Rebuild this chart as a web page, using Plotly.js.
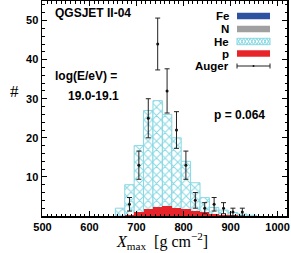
<!DOCTYPE html>
<html><head><meta charset="utf-8">
<script src="https://cdn.plot.ly/plotly-3.0.1.min.js"></script>
<style>html,body{margin:0;padding:0;background:#fff}#c{width:291px;height:253px}</style>
</head><body><div id="c"></div>
<script>
// bin centres (g/cm^2), 20 g/cm^2 bins
const binCenters = [665, 685, 705, 725, 745, 765, 785, 805, 825, 845, 865, 885, 905, 925, 945];
const heCounts   = [2, 8, 18, 27, 29.5, 26, 20, 14, 8.5, 4.7, 2.2, 1.5, 0.9, 0.5, 0.2];
const pCounts    = [0.05, 0.3, 1.0, 1.9, 2.4, 2.5, 2.1, 1.7, 1.3, 0.9, 0.55, 0.3, 0.15, 0.05, 0];
const nCounts    = [0, 0, 0, 0, 0, 0, 0, 0, 0, 0, 0, 0, 0, 0, 0];
const feCounts   = [0, 0, 0, 0, 0, 0, 0, 0, 0, 0, 0, 0, 0, 0, 0];
// Auger data
const augerX     = [685, 705, 725, 745, 765, 785, 805, 825, 845, 865, 885, 905, 925];
const augerN     = [3, 13, 25, 44, 32, 22, 13, 4, 2, 3, 2, 1, 1];
const xTicks     = [500, 600, 700, 800, 900, 1000];
const yTicks     = [10, 20, 30, 40, 50];

const cyan = '#86d8e3';
const traces = [
  {type:'bar', x:binCenters, y:feCounts, width:20, marker:{color:'#2f52a0', line:{width:0}}, showlegend:false, hoverinfo:'skip'},
  {type:'bar', x:binCenters, y:nCounts, width:20, marker:{color:'#a0a0a0', line:{width:0}}, showlegend:false, hoverinfo:'skip'},
  {type:'bar', x:binCenters, y:heCounts, width:20,
   marker:{color:'white', line:{color:cyan, width:1},
           pattern:{shape:'x', fgcolor:cyan, bgcolor:'white', size:6, solidity:0.3, fillmode:'replace'}},
   showlegend:false, hoverinfo:'skip'},
  {type:'bar', x:binCenters, y:pCounts, width:20, marker:{color:'#e8242b', line:{width:0}}, showlegend:false, hoverinfo:'skip'},
  {type:'scatter', mode:'markers', x:augerX, y:augerN,
   marker:{color:'#111', size:3},
   error_y:{type:'data', array:augerN.map(v=>Math.sqrt(v)), color:'#222', thickness:1, width:2.5},
   showlegend:false, hoverinfo:'skip'}
];

const L = 42, R = 287, T = 1, B = 216;
const px = v => (v - L) / (R - L);
const py = v => (B - v) / (B - T);

const bold = (s) => '<b>' + s + '</b>';
const tf = {family:'Liberation Sans, Arial, sans-serif', size:12, color:'#000'};
const lf = {family:'Liberation Sans, Arial, sans-serif', size:11.5, color:'#000'};
const annotations = [
  {text:bold('QGSJET II-04'), x:px(53), y:py(13), xanchor:'left', yanchor:'middle', font:tf},
  {text:bold('log(E/eV) ='), x:px(53), y:py(76), xanchor:'left', yanchor:'middle', font:tf},
  {text:bold('19.0-19.1'), x:px(66), y:py(96), xanchor:'left', yanchor:'middle', font:tf},
  {text:bold('p = 0.064'), x:px(212), y:py(115), xanchor:'left', yanchor:'middle', font:tf},
];
const legendRows = [
  {label:'Fe', y:16}, {label:'N', y:29}, {label:'He', y:41.5}, {label:'p', y:53.5}, {label:'Auger', y:66}
];
legendRows.forEach(r => annotations.push({text:bold(r.label), x:px(231), y:py(r.y), xanchor:'right', yanchor:'middle', font:lf}));
annotations.forEach(a => {a.xref='paper'; a.yref='paper'; a.showarrow=false;});
annotations.push({text:'#', xref:'paper', yref:'paper', x:px(14), y:py(92), xanchor:'center', yanchor:'middle', showarrow:false,
  font:{family:'Liberation Serif, serif', size:17, color:'#000'}});
annotations.push({text:'<i>X</i><sub>max</sub>  [g cm<sup>−2</sup>]', xref:'paper', yref:'paper', x:px(162), y:py(241), xanchor:'center', yanchor:'middle', showarrow:false,
  font:{family:'Liberation Serif, serif', size:16, color:'#000'}});

const sw0 = 237, sw1 = 270, sh = 3.2;
const shapes = [];
const sw = (y, fill) => shapes.push({type:'rect', xref:'paper', yref:'paper', x0:px(sw0), x1:px(sw1), y0:py(y+sh), y1:py(y-sh),
  fillcolor:fill, line:{width:0}});
sw(16, '#2f52a0'); sw(29, '#a0a0a0');
// He swatch: hatched
{
  const yc = 41.5, top = yc - sh, bot = yc + sh, step = 3.3;
  let pa = 'M' + px(sw0) + ',' + py(top), pb = 'M' + px(sw0) + ',' + py(bot);
  let k = 1;
  for (let xx = sw0 + step; xx <= sw1 + 0.01; xx += step, k++) {
    pa += ' L' + px(xx) + ',' + py(k % 2 ? bot : top);
    pb += ' L' + px(xx) + ',' + py(k % 2 ? top : bot);
  }
  shapes.push({type:'path', xref:'paper', yref:'paper', path:pa, line:{color:cyan, width:1}});
  shapes.push({type:'path', xref:'paper', yref:'paper', path:pb, line:{color:cyan, width:1}});
  shapes.push({type:'rect', xref:'paper', yref:'paper', x0:px(sw0), x1:px(sw1), y0:py(bot), y1:py(top),
    fillcolor:'rgba(0,0,0,0)', line:{color:cyan, width:1}});
}
sw(53.5, '#e8242b');
shapes.push({type:'line', xref:'paper', yref:'paper', x0:px(sw0), x1:px(sw1), y0:py(66), y1:py(66), line:{color:'#222', width:1}});
shapes.push({type:'line', xref:'paper', yref:'paper', x0:px(sw0), x1:px(sw0), y0:py(63.5), y1:py(68.5), line:{color:'#222', width:1}});
shapes.push({type:'line', xref:'paper', yref:'paper', x0:px(sw1), x1:px(sw1), y0:py(63.5), y1:py(68.5), line:{color:'#222', width:1}});
shapes.push({type:'circle', xref:'paper', yref:'paper', x0:px(252.5), x1:px(254.5), y0:py(67), y1:py(65), fillcolor:'#111', line:{width:0}});

const axfont = {family:'Liberation Sans, Arial, sans-serif', size:11, color:'#000', weight:'bold'};
const layout = {
  width:291, height:253, margin:{l:L, r:291-R, t:T, b:253-B},
  paper_bgcolor:'white', plot_bgcolor:'white', barmode:'overlay', bargap:0, showlegend:false,
  xaxis:{range:[499, 1020], tickmode:'array', tickvals:xTicks, ticks:'inside', ticklen:5, tickwidth:1, tickcolor:'#000',
         minor:{tickmode:'linear', tick0:500, dtick:10, ticks:'inside', ticklen:2.5, tickcolor:'#000'},
         showline:true, linecolor:'#000', linewidth:1.5, mirror:'ticks', showgrid:false, zeroline:false, tickfont:axfont, fixedrange:true},
  yaxis:{range:[0, 55], tickmode:'array', tickvals:yTicks, ticks:'inside', ticklen:5, tickwidth:1, tickcolor:'#000',
         minor:{tickmode:'linear', tick0:0, dtick:2, ticks:'inside', ticklen:2.5, tickcolor:'#000'},
         showline:true, linecolor:'#000', linewidth:1.5, mirror:'ticks', showgrid:false, zeroline:false, tickfont:axfont, fixedrange:true},
  annotations:annotations, shapes:shapes
};
Plotly.newPlot('c', traces, layout, {staticPlot:true, displayModeBar:false});
</script></body></html>
